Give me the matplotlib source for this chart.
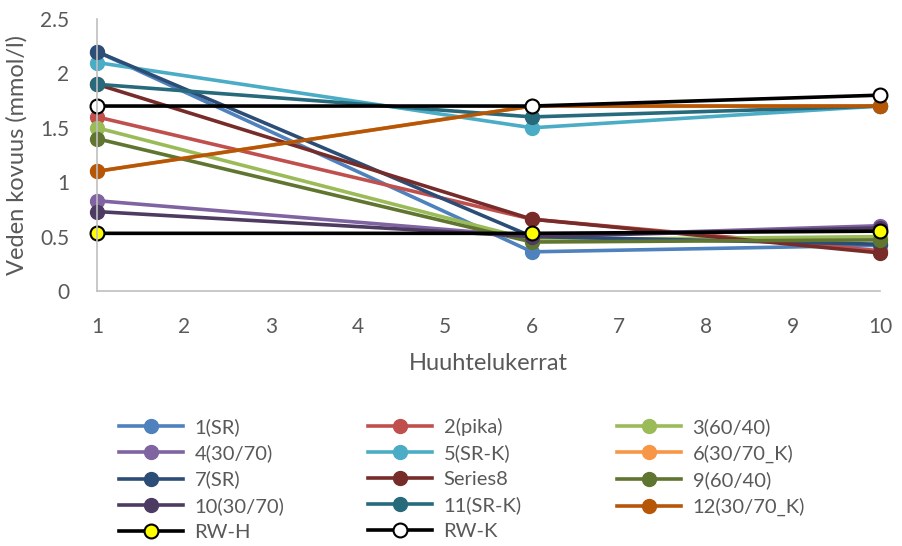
import matplotlib
matplotlib.use("Agg")
import matplotlib.pyplot as plt
from matplotlib.lines import Line2D

plt.rcParams['font.family'] = ['Lato', 'DejaVu Sans']

# Rinse rounds and measured water hardness per test series
rounds = [1, 6, 10]
series_names = ["1(SR)", "2(pika)", "3(60/40)", "4(30/70)", "5(SR-K)", "6(30/70_K)",
                "7(SR)", "Series8", "9(60/40)", "10(30/70)", "11(SR-K)", "12(30/70_K)"]
s1 = [2.2, 0.36, 0.42]
s2 = [1.6, 0.66, 0.37]
s3 = [1.5, 0.47, 0.50]
s4 = [0.83, 0.50, 0.60]
s5 = [2.1, 1.5, 1.7]
s6 = [1.1, 1.7, 1.7]
s7 = [2.2, 0.50, 0.43]
s8 = [1.9, 0.66, 0.35]
s9 = [1.4, 0.45, 0.47]
s10 = [0.73, 0.50, 0.58]
s11 = [1.9, 1.6, 1.7]
s12 = [1.1, 1.7, 1.7]
rw_h = [0.53, 0.53, 0.55]
rw_k = [1.7, 1.7, 1.8]
series_values = [s1, s2, s3, s4, s5, s6, s7, s8, s9, s10, s11, s12]
colors = ["#4F81BD", "#C0504D", "#9BBB59", "#8064A2", "#4BACC6", "#F79646",
          "#2C4D75", "#772C2A", "#5F7530", "#4D3B62", "#276A7C", "#B65708"]
x_ticks = list(range(1, 11))
y_ticks = [0, 0.5, 1, 1.5, 2, 2.5]
y_tick_labels = ["0", "0.5", "1", "1.5", "2", "2.5"]

text_color = "#595959"
fig = plt.figure(figsize=(9.03, 5.46), dpi=100)
ax = fig.add_axes([97 / 903, 1 - 291 / 546, (880 - 97) / 903, (291 - 19) / 546])

lw = 2.6
ms = 10
handles = {}
for name, vals, c in zip(series_names, series_values, colors):
    h, = ax.plot(rounds, vals, color=c, lw=lw, marker="o", ms=ms,
                 mfc=c, mec=c, label=name, clip_on=False)
    handles[name] = h
h, = ax.plot(rounds, rw_h, color="black", lw=lw, marker="o", ms=ms,
             mfc="#FFFF00", mec="black", mew=1.5, label="RW-H", clip_on=False)
handles["RW-H"] = h
h, = ax.plot(rounds, rw_k, color="black", lw=lw, marker="o", ms=ms,
             mfc="white", mec="black", mew=1.5, label="RW-K", clip_on=False)
handles["RW-K"] = h

ax.set_xlim(1, 10)
ax.set_ylim(0, 2.5)
ax.set_xticks(x_ticks)
ax.set_yticks(y_ticks)
ax.set_yticklabels(y_tick_labels)
for side in ["top", "right"]:
    ax.spines[side].set_visible(False)
for side in ["left", "bottom"]:
    ax.spines[side].set_color("#BFBFBF")
    ax.spines[side].set_linewidth(1.2)
ax.tick_params(length=0, labelsize=15, colors=text_color)
ax.tick_params(axis="y", pad=20)
ax.tick_params(axis="x", pad=19)
ax.set_ylabel("Veden kovuus (mmol/l)", fontsize=17, color=text_color, labelpad=9)
ax.set_xlabel("Huuhtelukerrat", fontsize=17, color=text_color, labelpad=11)

# legend: three columns, filled row by row
columns = [["1(SR)", "4(30/70)", "7(SR)", "10(30/70)", "RW-H"],
           ["2(pika)", "5(SR-K)", "Series8", "11(SR-K)", "RW-K"],
           ["3(60/40)", "6(30/70_K)", "9(60/40)", "12(30/70_K)"]]
col_x = [119, 368, 617]
for names, x0 in zip(columns, col_x):
    leg_handles = []
    for n in names:
        src = handles[n]
        leg_handles.append(Line2D([], [], color=src.get_color(), lw=lw, marker="o", ms=ms,
                                  mfc=src.get_markerfacecolor(),
                                  mec=src.get_markeredgecolor(),
                                  mew=src.get_markeredgewidth()))
    leg = fig.legend(leg_handles, names, loc="upper left",
                     bbox_to_anchor=(x0 / 903, 1 - 418 / 546), frameon=False,
                     fontsize=14.5, handlelength=3.2, handletextpad=0.55,
                     labelspacing=0.42, borderpad=0, borderaxespad=0)
    for t in leg.get_texts():
        t.set_color(text_color)

fig.savefig("out.png", dpi=100)
